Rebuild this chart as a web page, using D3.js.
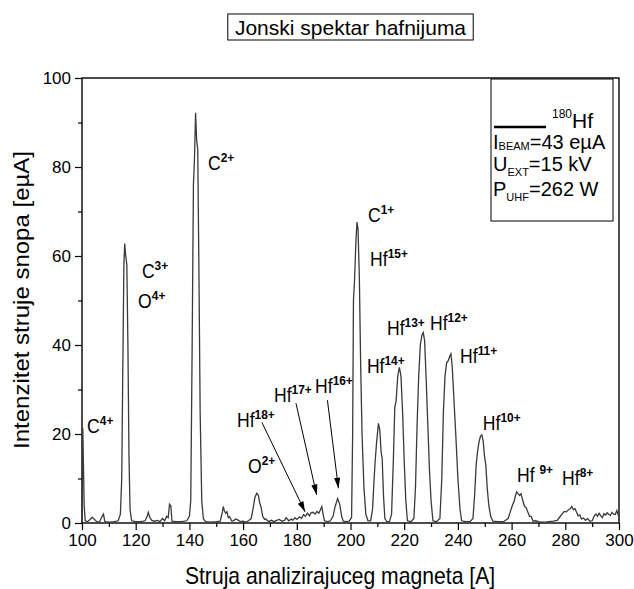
<!DOCTYPE html>
<html>
<head>
<meta charset="utf-8">
<script src="https://cdn.jsdelivr.net/npm/d3@7"></script>
<style>
  body { margin: 0; background: #fff; }
  text { font-family: "Liberation Sans", Arial, sans-serif; fill: #000; }
</style>
</head>
<body>
<svg id="chart" width="634" height="589"></svg>
<script>
// magnet current [A] and beam intensity [e uA]
var current = [100, 100.3, 100.8, 101.2, 102, 103, 103.8, 104.5, 105.5, 106.5, 107.5, 108, 108.5, 110, 112, 113.5,
  114.3, 114.8, 115.2, 115.6, 115.9, 116.3, 116.7, 117.1, 117.5, 117.9, 118.5, 120, 122, 123.5, 124.3, 124.7, 125.3,
  126, 127, 128, 129, 130, 130.8, 131.5, 132.1, 132.6, 133.1, 133.5, 135, 137, 139, 140, 140.5, 141, 141.5, 141.9,
  142.3, 142.7, 143.1, 143.5, 144, 144.6, 145.2, 146, 148, 150, 151.5, 152.3, 152.6, 153, 153.5, 154, 154.5, 155,
  155.7, 156.5, 157.2, 158, 159, 160, 161, 162, 163, 163.8, 164.4, 165.1, 165.7, 166.2, 166.7, 167.3, 168, 168.5,
  169.5, 170.5, 171.5, 172.5, 173.5, 174.5, 175.5, 176, 177, 178, 178.5, 179.3, 180, 181, 181.8, 182.5, 183.2, 184,
  184.7, 185.3, 186, 186.8, 187.5, 188.2, 188.8, 189.3, 189.8, 190.3, 191.5, 192.5, 193.5, 194.2, 195.2, 196, 196.7,
  197.3, 198.5, 199.5, 200.4, 200.8, 201.1, 201.5, 202, 202.4, 202.8, 203.3, 203.8, 204.3, 205, 205.7, 206.5, 207.5,
  208.2, 208.8, 209.2, 209.7, 210.4, 210.9, 211.4, 211.8, 212.3, 212.8, 213.5, 214.5, 215.3, 216, 216.5, 217, 217.6,
  218.2, 218.8, 219.4, 220, 220.6, 221.2, 222.5, 223.6, 224.2, 224.8, 225.4, 226, 226.6, 227.1, 227.6, 228.2, 228.8,
  229.4, 230, 230.7, 232, 233.3, 234, 234.6, 235.2, 235.8, 236.4, 237, 237.4, 237.9, 238.5, 239.2, 240, 240.8, 241.4,
  243, 244.5, 245.6, 246.2, 246.8, 247.3, 247.8, 248.4, 248.9, 249.4, 249.9, 250.4, 250.9, 251.5, 252.2, 253, 255,
  257, 258.7, 259.5, 260.3, 261, 261.5, 261.9, 262.4, 263, 263.5, 264.2, 264.8, 265.4, 266, 266.7, 267.3, 268, 269,
  270, 271, 272.5, 274, 275.5, 277, 278, 278.8, 279.6, 280.4, 281.2, 281.8, 282.4, 283, 283.6, 284.2, 284.8, 285.4,
  286, 286.8, 287.5, 288.3, 289.2, 290, 290.8, 291.4, 292, 292.6, 293.2, 293.8, 294.4, 295, 295.6, 296.2, 296.8,
  297.4, 298, 298.6, 299.2, 299.6, 300];
var intensity = [0.3, 21.3, 4, 0.5, 0.3, 0.8, 1.3, 0.9, 0.3, 0.2, 1.5, 2.0, 0.3, 0.2, 0.3, 0.5,
  2, 10, 35, 58, 62.8, 60, 58, 40, 15, 3, 0.5, 0.3, 0.3, 0.5, 1.5, 2.4, 1.2,
  0.6, 0.4, 0.6, 0.3, 1.0, 0.5, 1.5, 1.2, 4.2, 3.8, 0.4, 0.3, 0.3, 0.5, 1.5, 5, 38, 76, 82,
  92.2, 86, 84, 60, 25, 5, 1, 0.3, 0.2, 0.3, 0.4, 2.5, 3.7, 2.8, 2.2, 2.5, 1.2, 1.4,
  0.5, 0.5, 0.9, 0.7, 0.3, 0.4, 0.2, 0.5, 1.0, 3.5, 5.8, 6.7, 6.2, 4.5, 3.5, 1.5, 0.8, 0.9,
  0.3, 0.6, 0.3, 0.6, 0.8, 0.4, 0.6, 1.2, 0.5, 0.9, 0.6, 1.2, 0.8, 1.4, 1.0, 1.9, 1.5, 2.2,
  1.6, 2.3, 2.4, 2.0, 2.6, 2.2, 3.0, 3.7, 2.0, 0.5, 0.3, 0.5, 1.5, 3.5, 5.5, 4.2, 1.5,
  0.4, 0.3, 0.4, 1.2, 20, 50, 54.5, 63, 67.6, 66, 55, 35, 20, 8, 2, 0.5, 0.5,
  3, 10, 14, 18, 22.4, 21, 16, 14.5, 6, 1, 0.3, 0.3, 2, 15, 26, 27.5, 33,
  35, 33, 25, 14, 5, 0.5, 0.3, 1, 8, 22, 33, 40, 42.2, 42.8, 41, 32, 22,
  12, 5, 0.5, 0.3, 1, 10, 25, 33, 36, 36.5, 37.5, 38, 35, 28, 20, 10, 3, 0.5,
  0.3, 0.3, 1, 6, 13, 16, 18, 19.5, 19.8, 18.5, 15, 13, 8, 4, 1.5, 0.4, 0.3,
  0.3, 1, 2.5, 4, 5, 6.3, 7, 6.6, 6.2, 6.6, 5, 3.7, 3.5, 2.5, 1.5, 1.5, 0.4, 0.5,
  0.3, 0.2, 0.2, 0.3, 0.4, 0.6, 1.4, 2, 2.6, 2.5, 3, 3.2, 3.7, 3, 3.2, 2.4, 1.6, 1.8,
  0.9, 1.1, 0.6, 1.0, 0.4, 0.5, 1.6, 2.0, 1.5, 2.2, 1.6, 1.2, 2.1, 1.8, 2.3, 1.9, 1.7,
  2.4, 2.0, 1.9, 2.8, 2.0, 1.4];

var xTicks = [100, 120, 140, 160, 180, 200, 220, 240, 260, 280, 300];
var xMinor = [110, 130, 150, 170, 190, 210, 230, 250, 270, 290];
var yTicks = [0, 20, 40, 60, 80, 100];
var yMinor = [10, 30, 50, 70, 90];

// ion labels: name, charge, anchor in data units (left edge, baseline)
var ionNames = ["C", "C", "O", "C", "C", "Hf", "Hf", "Hf", "Hf", "Hf", "Hf", "Hf ", "Hf", "Hf", "O", "Hf", "Hf"];
var ionCharges = ["4+", "3+", "4+", "2+", "1+", "15+", "14+", "13+", "12+", "11+", "10+", "9+", "8+", "18+", "2+", "17+", "16+"];
var ionX = [101.9, 122.3, 120.9, 146.9, 206.5, 207.3, 206.1, 213.6, 229.6, 240.8, 249.3, 262, 278.8, 157.7, 161.8, 171.5, 186.8];
var ionY = [20.2, 55.1, 48.3, 79.3, 67.6, 57.8, 33.7, 42.2, 43.4, 36, 20.9, 9.2, 8.5, 21.6, 11.2, 27.2, 29.2];

// arrows from the Hf18+, Hf17+, Hf16+ labels down to their small peaks
var arrowFrom = [[167.0, 22.6], [179.7, 26.9], [191.4, 27.6]];
var arrowTo = [[183.1, 2.5], [187.4, 6.3], [195.5, 7.8]];

var svg = d3.select("#chart");
var plotLeft = 82, plotRight = 619, plotTop = 78, plotBottom = 523;

var x = d3.scaleLinear().domain([100, 300]).range([plotLeft, plotRight]);
var y = d3.scaleLinear().domain([0, 100]).range([plotBottom, plotTop]);

// text squeezed a little sideways, like the narrow Arial of the original
function narrowText(parent, px, py, size, sx, rot) {
  return parent.append("text")
      .attr("transform", "translate(" + px + "," + py + ") scale(" + sx + ",1)" + (rot ? " rotate(" + rot + ")" : ""))
      .style("font-size", size + "px");
}

// title, centred over the plot
var titleX = (plotLeft + plotRight) / 2;
var title = narrowText(svg, titleX, 35, 21, 1)
    .attr("text-anchor", "middle")
    .text("Jonski spektar hafnijuma");
var tw = title.node().getBBox().width;
svg.insert("rect", "text")
    .attr("x", titleX - tw / 2 - 7).attr("y", 14)
    .attr("width", tw + 14).attr("height", 26)
    .attr("fill", "#fff").attr("stroke", "#000").attr("stroke-width", 1);

// frame
svg.append("rect")
    .attr("x", plotLeft).attr("y", plotTop)
    .attr("width", plotRight - plotLeft).attr("height", plotBottom - plotTop)
    .attr("fill", "none").attr("stroke", "#000").attr("stroke-width", 1.4);

// axes
svg.append("g")
    .attr("transform", "translate(0," + plotBottom + ")")
    .call(d3.axisBottom(x).tickValues(xTicks).tickSize(7).tickSizeOuter(0).tickPadding(4));
svg.append("g")
    .attr("transform", "translate(0," + plotBottom + ")")
    .call(d3.axisBottom(x).tickValues(xMinor).tickSize(4).tickSizeOuter(0).tickFormat(""));
svg.append("g")
    .attr("transform", "translate(" + plotLeft + ",0)")
    .call(d3.axisLeft(y).tickValues(yTicks).tickSize(7).tickSizeOuter(0).tickPadding(4));
svg.append("g")
    .attr("transform", "translate(" + plotLeft + ",0)")
    .call(d3.axisLeft(y).tickValues(yMinor).tickSize(4).tickSizeOuter(0).tickFormat(""));

svg.selectAll(".domain").remove();
svg.selectAll(".tick line").attr("stroke", "#000").attr("stroke-width", 1.2);
svg.selectAll(".tick text")
    .style("font-family", "'Liberation Sans', Arial, sans-serif")
    .style("font-size", "17px").attr("fill", "#000");

// axis titles
narrowText(svg, 340, 584, 23, 0.92)
    .attr("text-anchor", "middle")
    .text("Struja analizirajuceg magneta [A]");
narrowText(svg, 29, 300, 24, 0.9, -90)
    .attr("text-anchor", "middle")
    .text("Intenzitet struje snopa [e\u00b5A]");

// spectrum
var line = d3.line()
    .x(function(d, i) { return x(current[i]); })
    .y(function(d) { return y(d); });
svg.append("path")
    .datum(intensity)
    .attr("d", line)
    .attr("fill", "none")
    .attr("stroke", "#3a3a3a")
    .attr("stroke-width", 1.3);

// ion labels
ionNames.forEach(function(name, i) {
  var t = narrowText(svg, x(ionX[i]), y(ionY[i]), 20, 0.88);
  t.append("tspan").text(name);
  t.append("tspan")
      .attr("dy", -8)
      .style("font-size", "13.5px")
      .style("font-weight", "bold")
      .text(ionCharges[i]);
});

// arrows
var defs = svg.append("defs");
defs.append("marker")
    .attr("id", "head")
    .attr("viewBox", "0 0 12 8")
    .attr("refX", 12).attr("refY", 4)
    .attr("markerWidth", 11).attr("markerHeight", 7)
    .attr("markerUnits", "userSpaceOnUse")
    .attr("orient", "auto")
  .append("path")
    .attr("d", "M0,0.5 L12,4 L0,7.5 Z")
    .attr("fill", "#000");
arrowFrom.forEach(function(p, i) {
  svg.append("line")
      .attr("x1", x(p[0])).attr("y1", y(p[1]))
      .attr("x2", x(arrowTo[i][0])).attr("y2", y(arrowTo[i][1]))
      .attr("stroke", "#000").attr("stroke-width", 1)
      .attr("marker-end", "url(#head)");
});

// legend
var lg = svg.append("g");
lg.append("rect")
    .attr("x", 491).attr("y", 79)
    .attr("width", 122).attr("height", 142)
    .attr("fill", "#fff").attr("stroke", "#000").attr("stroke-width", 1);
lg.append("line")
    .attr("x1", 494).attr("x2", 546)
    .attr("y1", 127).attr("y2", 127)
    .attr("stroke", "#000").attr("stroke-width", 2.5);
var l1 = lg.append("text").attr("x", 552).attr("y", 128).style("font-size", "21px");
l1.append("tspan").attr("dy", -10).style("font-size", "12px").text("180");
l1.append("tspan").attr("dy", 10).text("Hf");

var l2 = lg.append("text").attr("x", 493).attr("y", 149).style("font-size", "20px");
l2.append("tspan").text("I");
l2.append("tspan").attr("dy", 1).style("font-size", "11px").text("BEAM");
l2.append("tspan").attr("dy", -1).text("=43 e\u00b5A");

var l3 = lg.append("text").attr("x", 493).attr("y", 171).style("font-size", "20px");
l3.append("tspan").text("U");
l3.append("tspan").attr("dy", 5).style("font-size", "11px").text("EXT");
l3.append("tspan").attr("dy", -5).text("=15 kV");

var l4 = lg.append("text").attr("x", 493).attr("y", 196).style("font-size", "20px");
l4.append("tspan").text("P");
l4.append("tspan").attr("dy", 5).style("font-size", "11px").text("UHF");
l4.append("tspan").attr("dy", -5).text("=262 W");
</script>
</body>
</html>
